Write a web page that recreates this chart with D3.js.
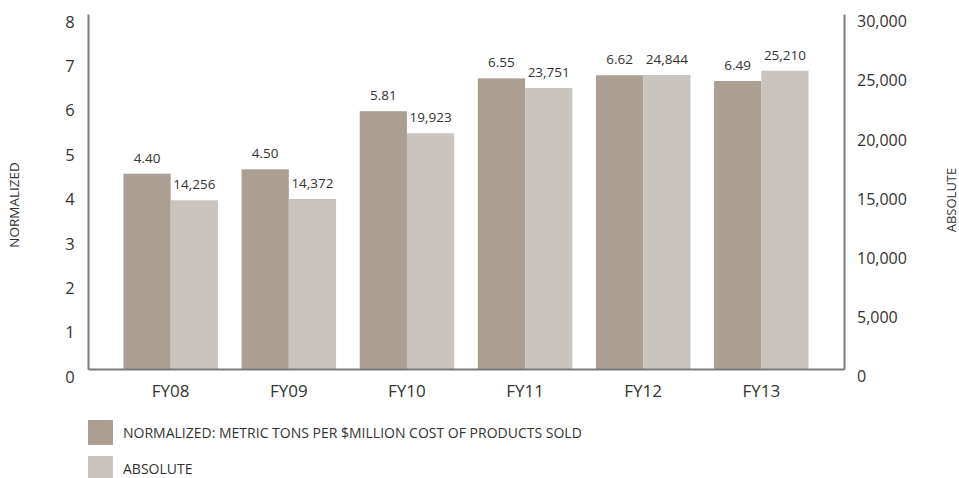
<!DOCTYPE html>
<html>
<head>
<meta charset="utf-8">
<script src="https://cdn.jsdelivr.net/npm/d3@7"></script>
<style>
  body { margin: 0; background: #fff; }
  text { font-family: "Open Sans", sans-serif; fill: #333; }
</style>
</head>
<body>
<svg width="959" height="478"></svg>
<script>
var years = ["FY08", "FY09", "FY10", "FY11", "FY12", "FY13"];
var normalized = [4.40, 4.50, 5.81, 6.55, 6.62, 6.49];
var absolute = [14256, 14372, 19923, 23751, 24844, 25210];
var leftTicks = [0, 1, 2, 3, 4, 5, 6, 7, 8];
var rightTicks = [0, 5000, 10000, 15000, 20000, 25000, 30000];
var legendLabels = ["NORMALIZED: METRIC TONS PER $MILLION COST OF PRODUCTS SOLD", "ABSOLUTE"];

var svg = d3.select("svg"),
    mLeft = 88, mRight = 844, mTop = 14, mBottom = 369;

var colNorm = "#ab9f93", colAbs = "#c9c4bd", axisCol = "#7b7b80";

var x = d3.scaleBand().domain(years).range([mLeft, mRight]).paddingInner(0.2).paddingOuter(0.3);
var x1 = d3.scaleBand().domain([0, 1]).range([0, x.bandwidth()]);
var yL = d3.scaleLinear().domain([0, 8]).range([mBottom, mTop]);
var yR = d3.scaleLinear().domain([0, 30000]).range([mBottom, mTop]);
var fmt = d3.format(",");

// bars
var g = svg.append("g").selectAll("g")
    .data(years)
    .enter().append("g")
    .attr("transform", function(d) { return "translate(" + x(d) + ",0)"; });

g.append("rect")
    .attr("x", x1(0))
    .attr("width", x1.bandwidth())
    .attr("y", function(d, i) { return yL(normalized[i]); })
    .attr("height", function(d, i) { return mBottom - yL(normalized[i]); })
    .attr("fill", colNorm);

g.append("rect")
    .attr("x", x1(1))
    .attr("width", x1.bandwidth())
    .attr("y", function(d, i) { return yR(absolute[i]); })
    .attr("height", function(d, i) { return mBottom - yR(absolute[i]); })
    .attr("fill", colAbs);

g.append("text")
    .attr("x", x1(0) + x1.bandwidth() / 2)
    .attr("y", function(d, i) { return yL(normalized[i]) - 11; })
    .attr("text-anchor", "middle")
    .attr("font-size", 13.5)
    .text(function(d, i) { return normalized[i].toFixed(2); });

g.append("text")
    .attr("x", x1(1) + x1.bandwidth() / 2)
    .attr("y", function(d, i) { return yR(absolute[i]) - 11; })
    .attr("text-anchor", "middle")
    .attr("font-size", 13.5)
    .text(function(d, i) { return fmt(absolute[i]); });

// axes
var axL = svg.append("g")
    .attr("transform", "translate(" + mLeft + ",0)")
    .call(d3.axisLeft(yL).tickValues(leftTicks).tickSize(0).tickPadding(13));
var axR = svg.append("g")
    .attr("transform", "translate(" + mRight + ",0)")
    .call(d3.axisRight(yR).tickValues(rightTicks).tickSize(0).tickPadding(13).tickFormat(fmt));
var axB = svg.append("g")
    .attr("transform", "translate(0," + mBottom + ")")
    .call(d3.axisBottom(x).tickSize(0).tickPadding(12));

[axL, axR, axB].forEach(function(a) {
  a.select(".domain").attr("stroke", axisCol).attr("stroke-width", 2);
  a.selectAll("text").attr("fill", "#333").attr("font-family", "Open Sans, sans-serif");
});
axL.selectAll("text").attr("font-size", 16.5).attr("dy", "0.8em").attr("text-anchor", "middle").attr("x", -18);
axR.selectAll("text").attr("font-size", 16).attr("dy", "0.8em");
axB.selectAll("text").attr("font-size", 17).attr("dy", "0.95em");

// axis titles
svg.append("text")
    .attr("transform", "translate(19,205) rotate(-90)")
    .attr("text-anchor", "middle")
    .attr("font-size", 13.5)
    .text("NORMALIZED");
svg.append("text")
    .attr("transform", "translate(956,200) rotate(-90)")
    .attr("text-anchor", "middle")
    .attr("font-size", 13)
    .text("ABSOLUTE");

// legend
var leg = svg.append("g").selectAll("g")
    .data(legendLabels)
    .enter().append("g")
    .attr("transform", function(d, i) { return "translate(88," + (420 + i * 36) + ")"; });
leg.append("rect")
    .attr("width", 25).attr("height", 25)
    .attr("fill", function(d, i) { return i === 0 ? colNorm : colAbs; });
leg.append("text")
    .attr("x", 35).attr("y", 13).attr("dy", "0.35em")
    .attr("font-size", 14)
    .text(function(d) { return d; });
</script>
</body>
</html>
